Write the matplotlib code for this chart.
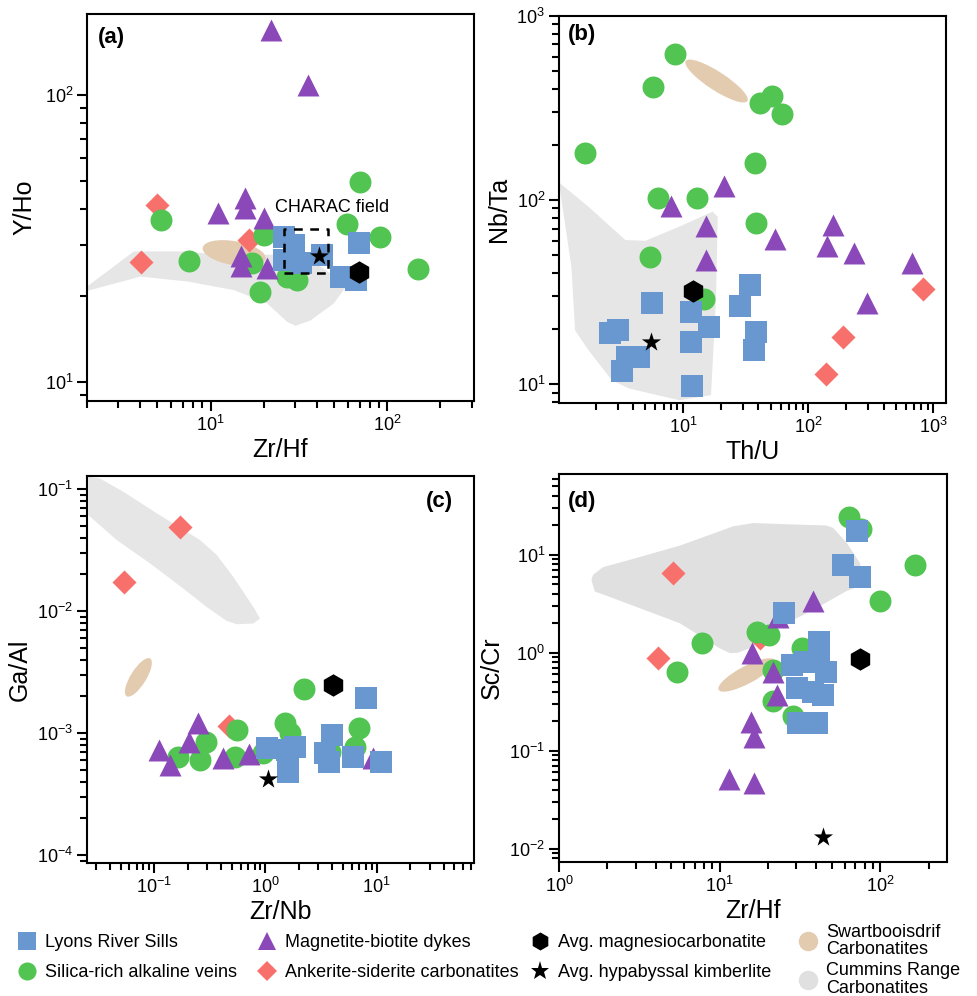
import matplotlib
matplotlib.use("Agg")
import matplotlib.pyplot as plt
from matplotlib.patches import Ellipse, Polygon
from matplotlib.lines import Line2D

plt.rcParams['font.family'] = ['Liberation Sans', 'DejaVu Sans']
plt.rcParams['mathtext.fontset'] = 'custom'
plt.rcParams['mathtext.rm'] = 'Liberation Sans'
plt.rcParams['mathtext.it'] = 'Liberation Sans:italic'
plt.rcParams['mathtext.bf'] = 'Liberation Sans:bold'
plt.rcParams['mathtext.default'] = 'regular'

C_SILLS = "#6898cf"
C_VEINS = "#51c451"
C_DYKES = "#8a48b8"
C_ANK = "#f7706c"
C_SWART = "#e3cbb0"
C_CUMMINS = "#e6e6e6"

# ---------------- panel (a): Zr/Hf vs Y/Ho ----------------
a_sills_x = [26.0, 29.6, 26.0, 32.3, 42.9, 54.5, 66.2, 69.1]
a_sills_y = [32.1, 30.0, 26.6, 25.9, 27.7, 23.3, 22.7, 30.6]
a_veins_x = [5.26, 7.54, 69.7, 59.4, 90.8, 149, 20.0, 19.0, 17.2, 27.2, 31.0]
a_veins_y = [36.7, 26.4, 49.9, 35.5, 31.9, 24.8, 32.5, 20.6, 25.9, 23.3, 22.7]
a_dykes_x = [21.9, 35.7, 11.0, 15.6, 15.6, 20.0, 14.9, 14.9, 20.9]
a_dykes_y = [168, 108, 38.7, 43.6, 40.3, 37.2, 27.4, 25.3, 24.9]
a_ank_x = [4.99, 4.02, 16.5]
a_ank_y = [41.4, 26.2, 31.3]
a_magnesio = (69.1, 24.1)
a_kimberlite = (41.0, 27.4)
a_cummins_x = [1.9, 3.68, 7.38, 13.6, 32.3, 59.4, 49.9, 36.8, 30.3, 27.2, 20.9, 13.6, 7.38, 4.02, 1.9]
a_cummins_y = [21.0, 28.5, 28.5, 27.4, 28.1, 21.8, 18.8, 16.4, 15.7, 16.2, 18.8, 20.9, 22.4, 23.3, 20.6]
a_swart_center = (13.6, 28.1)
charac_zrhf = [26, 46]
charac_yho = [24, 34]

# ---------------- panel (b): Th/U vs Nb/Ta ----------------
b_sills_x = [2.62, 3.02, 3.57, 4.43, 3.25, 5.60, 11.5, 16.2, 11.5, 11.7, 34.4, 28.6, 38.5, 36.6]
b_sills_y = [18.9, 19.8, 14.1, 14.1, 11.8, 27.5, 24.7, 20.5, 17.0, 9.75, 34.5, 26.5, 19.2, 15.3]
b_veins_x = [8.58, 5.77, 40.8, 51.7, 61.1, 1.63, 37.3, 6.33, 12.8, 38.5, 5.43, 14.8]
b_veins_y = [619, 413, 336, 369, 293, 179, 158, 103, 102, 74.6, 48.9, 28.9]
b_dykes_x = [7.96, 21.4, 15.2, 15.2, 54.0, 157, 141, 230, 295, 680]
b_dykes_y = [92.8, 119, 72.3, 47.2, 61.1, 73.1, 56.2, 51.3, 27.5, 45.3]
b_ank_x = [832, 191, 139]
b_ank_y = [32.7, 18.1, 11.3]
b_magnesio = (12.1, 32.1)
b_kimberlite = (5.50, 17.0)
b_cummins_x = [1.0, 1.75, 3.46, 5.01, 9.29, 17.2, 18.9, 18.3, 16.7, 9.29, 3.68, 2.70, 1.75, 1.37, 1.28, 1.04]
b_cummins_y = [126, 92.0, 60.6, 60.1, 71.6, 86.5, 81.1, 28.6, 8.71, 8.18, 9.48, 10.5, 15.3, 19.6, 43.5, 113]
b_swart_center = (18.5, 443)

# ---------------- panel (c): Zr/Nb vs Ga/Al ----------------
c_sills_x = [1.03, 1.58, 1.85, 1.61, 1.61, 3.95, 3.44, 3.76, 6.18, 10.96, 8.04]
c_sills_y = [7.50e-4, 7.26e-4, 7.73e-4, 6.01e-4, 4.82e-4, 9.64e-4, 6.82e-4, 5.82e-4, 6.40e-4, 5.82e-4, 1.92e-3]
c_veins_x = [0.165, 0.259, 0.293, 0.553, 0.535, 0.959, 1.50, 1.67, 2.23, 7.00, 6.40, 3.81]
c_veins_y = [6.40e-4, 6.01e-4, 8.49e-4, 1.06e-3, 6.40e-4, 6.82e-4, 1.20e-3, 9.96e-4, 2.28e-3, 1.09e-3, 7.73e-4, 7.03e-4]
c_dykes_x = [0.1116, 0.139, 0.250, 0.207, 0.420, 0.718, 9.33]
c_dykes_y = [7.26e-4, 5.47e-4, 1.20e-3, 8.5e-4, 6.21e-4, 6.73e-4, 6.21e-4]
c_ank_x = [0.171, 0.0537, 0.47]
c_ank_y = [0.0491, 0.0172, 1.15e-3]
c_magnesio = (4.04, 2.47e-3)
c_kimberlite = (1.065, 4.17e-4)
c_cummins_x = [0.0257, 0.0327, 0.053, 0.106, 0.259, 0.366, 0.515, 0.780, 0.895, 0.78, 0.553, 0.450,
               0.297, 0.183, 0.092, 0.0462, 0.0257]
c_cummins_y = [0.126, 0.122, 0.095, 0.0632, 0.0382, 0.0288, 0.0191, 0.0108, 0.0087, 0.0079, 0.0078, 0.0083,
               0.0108, 0.0153, 0.0246, 0.0382, 0.0612]
c_swart_center = (0.0723, 2.86e-3)

# ---------------- panel (d): Zr/Hf vs Sc/Cr ----------------
d_sills_x = [71.3, 58.8, 74.8, 25.1, 41.7, 41.7, 28.0, 34.0, 45.9, 30.1, 38.1, 43.8, 30.8, 40.2]
d_sills_y = [17.3, 7.91, 5.92, 2.57, 1.30, 0.885, 0.750, 0.805, 0.641, 0.433, 0.397, 0.371, 0.190, 0.190]
d_veins_x = [64.1, 75.9, 164, 99.3, 7.78, 5.39, 17.0, 20.3, 32.4, 21.4, 28.7, 21.5]
d_veins_y = [24.3, 18.5, 7.91, 3.39, 1.25, 0.641, 1.64, 1.52, 1.11, 0.324, 0.226, 0.667]
d_dykes_x = [38.3, 23.1, 15.8, 21.5, 22.6, 15.6, 16.3, 11.4, 16.3]
d_dykes_y = [3.34, 2.34, 1.00, 0.641, 0.371, 0.198, 0.139, 0.0509, 0.047]
d_ank_x = [5.13, 4.14, 17.8]
d_ank_y = [6.50, 0.891, 1.41]
d_magnesio = (74.8, 0.859)
d_kimberlite = (43.8, 0.0132)
d_cummins_x = [1.59, 1.67, 2.17, 5.65, 10.0, 11.6, 13.0, 16.2, 23.7, 38.3, 61.8, 78.3, 74.8, 61.8, 50.9,
               46.3, 23.7, 16.2, 12.1, 5.65, 2.76, 1.88, 1.63]
d_cummins_y = [5.55, 4.22, 3.61, 2.00, 1.11, 0.99, 1.0, 1.15, 1.85, 2.74, 4.28, 4.93, 8.22, 13.2, 18.8,
               19.9, 20.6, 21.1, 19.5, 12.4, 8.89, 7.48, 6.25]
d_swart_center = (14.7, 0.593)


def style_axes(ax):
    ax.set_xscale('log')
    ax.set_yscale('log')
    for sp in ax.spines.values():
        sp.set_linewidth(1.5)
    ax.tick_params(which='major', direction='out', length=7, width=1.5, labelsize=13, pad=3)
    ax.tick_params(which='minor', direction='out', length=5, width=1.5)


def add_swart(ax, center, width, height, angle):
    # field drawn in axes space so it keeps its shape on log axes
    cx, cy = ax.transAxes.inverted().transform(ax.transData.transform(center))
    ax.add_patch(Ellipse((cx, cy), width, height, angle=angle, transform=ax.transAxes,
                         facecolor=C_SWART, edgecolor='none', zorder=2))


def plot_points(ax, sills, veins, dykes, ank, magnesio, kimb):
    ax.scatter(ank[0], ank[1], marker='D', s=150, color=C_ANK, linewidths=0, zorder=3)
    ax.scatter(veins[0], veins[1], marker='o', s=250, color=C_VEINS, linewidths=0, zorder=4)
    ax.scatter(dykes[0], dykes[1], marker='^', s=250, color=C_DYKES, linewidths=0, zorder=5)
    ax.scatter(sills[0], sills[1], marker='s', s=262, color=C_SILLS, linewidths=0, zorder=6)
    ax.scatter([magnesio[0]], [magnesio[1]], marker='h', s=260, color='black', linewidths=0, zorder=7)
    ax.scatter([kimb[0]], [kimb[1]], marker='*', s=210, color='black', linewidths=0, zorder=7)


fig = plt.figure(figsize=(9.78, 9.96), dpi=100)
ax_a = fig.add_axes([0.089, 0.5974, 0.3957, 0.3886])
ax_b = fig.add_axes([0.5716, 0.5954, 0.3957, 0.3886])
ax_c = fig.add_axes([0.089, 0.1335, 0.3957, 0.3886])
ax_d = fig.add_axes([0.5716, 0.1345, 0.3967, 0.3896])

# (a)
style_axes(ax_a)
ax_a.set_xlim(2.0, 310)
ax_a.set_ylim(8.6, 191)
ax_a.add_patch(Polygon(list(zip(a_cummins_x, a_cummins_y)), closed=True, facecolor=C_CUMMINS,
                       edgecolor='none', zorder=1))
add_swart(ax_a, a_swart_center, 0.165, 0.062, -10)
plot_points(ax_a, (a_sills_x, a_sills_y), (a_veins_x, a_veins_y), (a_dykes_x, a_dykes_y),
            (a_ank_x, a_ank_y), a_magnesio, a_kimberlite)
x0, x1 = charac_zrhf
y0, y1 = charac_yho
ax_a.plot([x0, x1, x1, x0, x0], [y0, y0, y1, y1, y0], color='black', lw=1.8,
          linestyle=(0, (3.5, 3)), zorder=8)
ax_a.text(23.3, 40.4, "CHARAC field", fontsize=13, ha='left', va='center', zorder=9)
ax_a.set_xlabel("Zr/Hf", fontsize=18, labelpad=2)
ax_a.set_ylabel("Y/Ho", fontsize=18, labelpad=6)
ax_a.text(0.028, 0.94, "(a)", transform=ax_a.transAxes, fontsize=16, fontweight='bold', va='center')

# (b)
style_axes(ax_b)
ax_b.set_xlim(1.02, 1260)
ax_b.set_ylim(7.9, 1000)
ax_b.add_patch(Polygon(list(zip(b_cummins_x, b_cummins_y)), closed=True, facecolor=C_CUMMINS,
                       edgecolor='none', zorder=1))
add_swart(ax_b, b_swart_center, 0.19, 0.048, -33)
plot_points(ax_b, (b_sills_x, b_sills_y), (b_veins_x, b_veins_y), (b_dykes_x, b_dykes_y),
            (b_ank_x, b_ank_y), b_magnesio, b_kimberlite)
ax_b.set_xlabel("Th/U", fontsize=18, labelpad=2)
ax_b.set_ylabel("Nb/Ta", fontsize=18, labelpad=4)
ax_b.text(0.023, 0.951, "(b)", transform=ax_b.transAxes, fontsize=16, fontweight='bold', va='center')

# (c)
style_axes(ax_c)
ax_c.set_xlim(0.025, 75)
ax_c.set_ylim(8.6e-5, 0.128)
ax_c.add_patch(Polygon(list(zip(c_cummins_x, c_cummins_y)), closed=True, facecolor=C_CUMMINS,
                       edgecolor='none', zorder=1))
add_swart(ax_c, c_swart_center, 0.115, 0.04, 58)
plot_points(ax_c, (c_sills_x, c_sills_y), (c_veins_x, c_veins_y), (c_dykes_x, c_dykes_y),
            (c_ank_x, c_ank_y), c_magnesio, c_kimberlite)
ax_c.set_xlabel("Zr/Nb", fontsize=18, labelpad=2)
ax_c.set_ylabel("Ga/Al", fontsize=18, labelpad=4)
ax_c.text(0.946, 0.933, "(c)", transform=ax_c.transAxes, fontsize=16, fontweight='bold',
          va='center', ha='right')

# (d)
style_axes(ax_d)
ax_d.set_xlim(1.0, 260)
ax_d.set_ylim(0.0073, 66.8)
ax_d.add_patch(Polygon(list(zip(d_cummins_x, d_cummins_y)), closed=True, facecolor="#dfe0df",
                       edgecolor='none', zorder=1))
add_swart(ax_d, d_swart_center, 0.163, 0.045, 28)
plot_points(ax_d, (d_sills_x, d_sills_y), (d_veins_x, d_veins_y), (d_dykes_x, d_dykes_y),
            (d_ank_x, d_ank_y), d_magnesio, d_kimberlite)
ax_d.set_xlabel("Zr/Hf", fontsize=18, labelpad=2)
ax_d.set_ylabel("Sc/Cr", fontsize=18, labelpad=4)
ax_d.text(0.023, 0.93, "(d)", transform=ax_d.transAxes, fontsize=16, fontweight='bold', va='center')

# legend, four columns placed by hand
def handle(marker, color, ms):
    return Line2D([], [], linestyle='none', marker=marker, color=color, markersize=ms, markeredgewidth=0)

legend_cols = [
    ([handle('s', C_SILLS, 13), handle('o', C_VEINS, 13)],
     ["Lyons River Sills", "Silica-rich alkaline veins"], 0.0184),
    ([handle('^', C_DYKES, 13), handle('D', C_ANK, 10)],
     ["Magnetite-biotite dykes", "Ankerite-siderite carbonatites"], 0.264),
    ([handle('h', 'black', 13), handle('*', 'black', 14)],
     ["Avg. magnesiocarbonatite", "Avg. hypabyssal kimberlite"], 0.543),
    ([handle('o', C_SWART, 14), handle('o', "#dfe0df", 14)],
     ["Swartbooisdrif\nCarbonatites", "Cummins Range\nCarbonatites"], 0.817),
]
for i, (hs, labels, xpos) in enumerate(legend_cols):
    top = 0.0620 if i < 3 else 0.0725
    leg = fig.legend(hs, labels, loc='upper left', bbox_to_anchor=(xpos, top), frameon=False,
                     fontsize=13, borderpad=0, borderaxespad=0, handlelength=1.0,
                     handletextpad=0.5, labelspacing=0.73 if i < 3 else 0.2)
    for t in leg.get_texts():
        t.set_linespacing(1.05)

fig.savefig("out.png", dpi=100)
